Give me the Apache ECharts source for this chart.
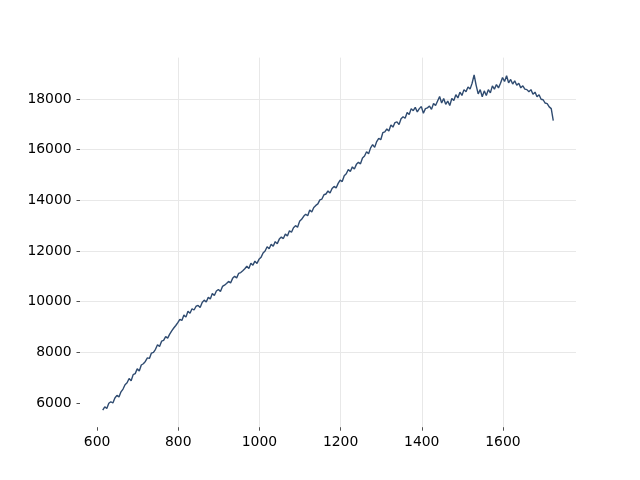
<!DOCTYPE html>
<html>
<head>
<meta charset="utf-8">
<script src="https://cdn.jsdelivr.net/npm/echarts@6/dist/echarts.min.js"></script>
<style>html,body{margin:0;padding:0;background:#fff;}#c{width:640px;height:480px;}</style>
</head>
<body>
<div id="c"></div>
<script>
// sampling grid for x
const xStart = 614;
const xStep = 5;
// series values, one per sample
const yValues = [
  5720, 5850, 5780, 5990, 6050, 6000, 6200, 6300, 6240, 6440,
  6550, 6720, 6800, 6970, 6880, 7120, 7160, 7350, 7260, 7500,
  7550, 7640, 7780, 7760, 7970, 8000, 8120, 8300, 8230, 8440,
  8470, 8620, 8560, 8720, 8850, 8960, 9060, 9170, 9300, 9260,
  9470, 9390, 9620, 9540, 9720, 9670, 9820, 9850, 9770, 9970,
  10060, 9990, 10170, 10110, 10320, 10240, 10420, 10480, 10400, 10600,
  10650, 10720, 10800, 10740, 10920, 11000, 10940, 11120, 11150, 11220,
  11300, 11400, 11310, 11520, 11440, 11600, 11510, 11670, 11750, 11920,
  12000, 12170, 12090, 12270, 12190, 12370, 12290, 12470, 12550, 12490,
  12670, 12590, 12800, 12740, 12920, 13000, 12940, 13170, 13250, 13370,
  13450, 13390, 13620, 13540, 13720, 13800, 13860, 14020, 14050, 14220,
  14250, 14370, 14290, 14470, 14550, 14490, 14670, 14800, 14740, 14970,
  15050, 15220, 15140, 15320, 15240, 15420, 15500, 15440, 15670, 15750,
  15920, 15840, 16070, 16200, 16090, 16320, 16450, 16390, 16670, 16700,
  16820, 16740, 16970, 16890, 17070, 17100, 16990, 17220, 17300, 17240,
  17470, 17390, 17620, 17540, 17670, 17490, 17620, 17700, 17440, 17620,
  17650, 17720, 17590, 17820, 17740, 17920, 18100, 17840, 18020, 17790,
  17920, 17740, 18020, 17940, 18170, 18040, 18270, 18140, 18370, 18290,
  18470, 18390, 18620, 18950, 18540, 18200, 18370, 18090, 18320, 18140,
  18370, 18240, 18520, 18390, 18570, 18440, 18620, 18850, 18690, 18920,
  18640, 18770, 18590, 18720, 18540, 18620, 18440, 18520, 18390, 18370,
  18290, 18370, 18190, 18270, 18090, 18170, 17990, 17970, 17840, 17820,
  17690, 17620, 17150
];
// axis tick labels
const xTicks = [600, 800, 1000, 1200, 1400, 1600];
const yTicks = [6000, 8000, 10000, 12000, 14000, 16000, 18000];
const xRange = [558, 1780];
const yRange = [5045, 19634];

const seriesData = yValues.map((v, i) => [xStart + i * xStep, v]);

const gridColor = '#e8e8e8';
function lineColors(n) {
  const arr = ['rgba(0,0,0,0)'];
  for (let i = 0; i < n; i++) arr.push(gridColor);
  arr.push('rgba(0,0,0,0)');
  return arr;
}
const font = { fontFamily: 'DejaVu Sans', fontSize: 13.9, color: '#000', formatter: v => String(v) };

const chart = echarts.init(document.getElementById('c'), null, { renderer: 'canvas' });
chart.setOption({
  animation: false,
  backgroundColor: '#fff',
  grid: { left: 80, right: 64, top: 57.6, bottom: 52.8, containLabel: false, outerBoundsMode: 'none' },
  xAxis: {
    type: 'value', min: xRange[0], max: xRange[1],
    splitNumber: 6, minInterval: 200, maxInterval: 200,
    axisLine: { show: false },
    axisTick: { show: true, length: 3.5, inside: false, customValues: xTicks, lineStyle: { color: '#222', width: 0.8 } },
    axisLabel: Object.assign({ margin: 8.4, customValues: xTicks }, font),
    splitLine: { show: true, lineStyle: { color: lineColors(xTicks.length), width: 1 } }
  },
  yAxis: {
    type: 'value', min: yRange[0], max: yRange[1],
    splitNumber: 7, minInterval: 2000, maxInterval: 2000,
    axisLine: { show: false },
    axisTick: { show: true, length: 3.5, inside: false, customValues: yTicks, lineStyle: { color: '#222', width: 0.8 } },
    axisLabel: Object.assign({ margin: 8.4, customValues: yTicks }, font),
    splitLine: { show: true, lineStyle: { color: lineColors(yTicks.length), width: 1 } }
  },
  series: [{
    type: 'line',
    data: seriesData,
    showSymbol: false,
    symbol: 'none',
    lineStyle: { color: '#2f4b70', width: 1.4 },
    emphasis: { disabled: true }
  }]
});
</script>
</body>
</html>
